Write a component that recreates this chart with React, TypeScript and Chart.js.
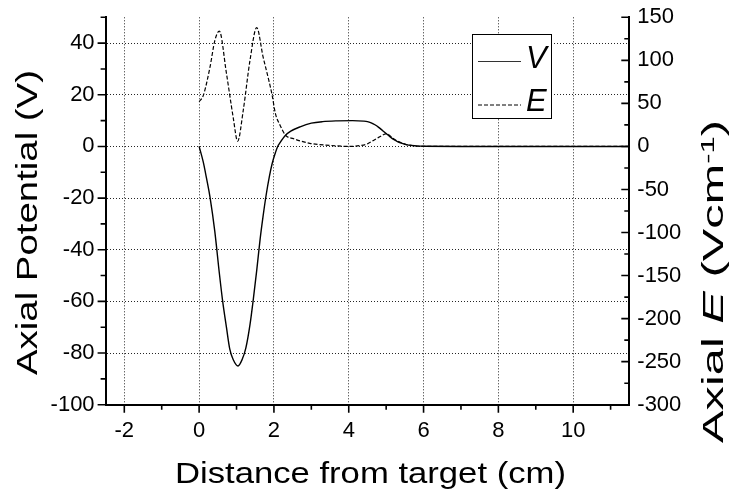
import React, { useEffect, useRef } from 'react';
import { Chart, registerables } from 'chart.js';

Chart.register(...registerables);

// ---------- data ----------
const V_X = [0, 0.11, 0.2, 0.29, 0.42, 0.54, 0.63, 0.73, 0.82, 0.91, 1.04, 1.15, 1.25, 1.36, 1.45, 1.54, 1.63, 1.71, 1.79, 1.88, 1.95, 2.04, 2.1, 2.16, 2.31, 2.45, 2.7, 3.0, 3.3, 3.7, 4.1, 4.4, 4.5, 4.6, 4.7, 4.8, 4.9, 5.0, 5.1, 5.2, 5.3, 5.45, 5.6, 5.8, 6.0, 7, 8, 9, 10, 11, 11.5];
const V_Y = [0, -6, -12.5, -19.5, -33, -49, -60, -70, -78.5, -82.5, -85, -82.5, -78, -69, -59, -48, -36, -27, -19, -11.5, -6.8, -2.4, 0, 1.4, 4.3, 5.9, 7.6, 9.0, 9.6, 9.9, 10, 9.8, 9.6, 9.1, 8.4, 7.4, 6.2, 5.0, 3.8, 2.7, 1.9, 1.1, 0.5, 0.2, 0.05, 0, 0, 0, 0, 0, 0];

const E_X = [0, 0.11, 0.29, 0.42, 0.54, 0.73, 0.91, 1.03, 1.18, 1.36, 1.54, 1.71, 1.84, 1.95, 2.04, 2.16, 2.31, 2.52, 2.96, 3.5, 4.0, 4.3, 4.5, 4.66, 4.8, 4.92, 5.02, 5.1, 5.2, 5.3, 5.45, 5.6, 5.8, 6.0, 7, 8, 9, 10, 11, 11.5];
const E_Y = [52, 59, 92, 123, 134, 85, 34, 6, 42, 100, 138, 104, 81, 60, 38, 25, 13, 9, 3.6, 1.2, 0, 1, 3, 7, 10.5, 13.5, 15, 12.5, 9, 6.3, 3.5, 1.6, 0.5, 0.1, 0, 0, 0, 0, 0, 0];

const SERIES_LABELS = ['V', 'E'];

const X_MIN = -2.5;
const X_MAX = 11.5;
const X_TICKS = [-2, 0, 2, 4, 6, 8, 10];
const X_MINOR = [-1, 1, 3, 5, 7, 9, 11];

const LEFT_MIN = -100;
const LEFT_MAX = 50;
const LEFT_TICKS = [-100, -80, -60, -40, -20, 0, 20, 40];
const LEFT_MINOR = [-90, -70, -50, -30, -10, 10, 30, 50];

const RIGHT_MIN = -300;
const RIGHT_MAX = 150;
const RIGHT_TICKS = [-300, -250, -200, -150, -100, -50, 0, 50, 100, 150];
const RIGHT_MINOR = [-275, -225, -175, -125, -75, -25, 25, 75, 125];

const X_TITLE = 'Distance from target (cm)';
const LEFT_TITLE = 'Axial Potential (V)';
const RIGHT_TITLE_PARTS = [
  { text: 'Axial ' },
  { text: 'E', italic: true },
  { text: ' (Vcm' },
  { text: '-1', sup: true },
  { text: ')' },
];

// ---------- style ----------
const FONT = '"Liberation Sans", Arial, Helvetica, sans-serif';

type Seg = { text: string; italic?: boolean; sup?: boolean };

function drawFitText(
  ctx: CanvasRenderingContext2D,
  segs: Seg[],
  size: number,
  cx: number,
  baseline: number,
  rot: number,
  targetLen: number
) {
  ctx.save();
  const fontFor = (s: Seg) => `${s.italic ? 'italic ' : ''}${s.sup ? Math.round(size * 0.62) : size}px ${FONT}`;
  let total = 0;
  const widths = segs.map((s) => {
    ctx.font = fontFor(s);
    const w = ctx.measureText(s.text).width;
    total += w;
    return w;
  });
  ctx.translate(cx, baseline);
  ctx.rotate(rot);
  ctx.scale(targetLen / total, 1);
  ctx.fillStyle = '#000';
  ctx.textBaseline = 'alphabetic';
  ctx.textAlign = 'left';
  let x = -total / 2;
  segs.forEach((s, i) => {
    ctx.font = fontFor(s);
    ctx.fillText(s.text, x, s.sup ? -size * 0.3 : 0);
    x += widths[i];
  });
  ctx.restore();
}

const decorPlugin = {
  id: 'decor',
  afterDatasetsDraw(chart: any) {
    const ctx: CanvasRenderingContext2D = chart.ctx;
    const ca = chart.chartArea;
    const sx = chart.scales.x;
    const sy = chart.scales.y;
    const sy1 = chart.scales.y1;

    // legend
    const lx = 472.5, ly = 34.5, lw = 79, lh = 84;
    ctx.save();
    ctx.fillStyle = '#fff';
    ctx.fillRect(lx, ly, lw, lh);
    ctx.strokeStyle = '#000';
    ctx.lineWidth = 1;
    ctx.strokeRect(lx, ly, lw, lh);
    const dsets = chart.data.datasets;
    const rows = [61.5, 105];
    dsets.forEach((ds: any, i: number) => {
      ctx.beginPath();
      ctx.setLineDash(ds.borderDash || []);
      ctx.lineWidth = 1;
      ctx.strokeStyle = i === 0 ? '#333' : '#000';
      ctx.moveTo(478, rows[i]);
      ctx.lineTo(521, rows[i]);
      ctx.stroke();
      ctx.setLineDash([]);
      ctx.fillStyle = '#000';
      ctx.font = `italic 31px ${FONT}`;
      ctx.textBaseline = 'alphabetic';
      ctx.textAlign = 'left';
      ctx.fillText(ds.label, 526, rows[i] + (i === 0 ? 6.5 : 6));
    });
    ctx.restore();

    // tick marks
    ctx.save();
    ctx.strokeStyle = '#000';
    ctx.lineWidth = 1.6;
    ctx.beginPath();
    X_TICKS.forEach((v) => {
      const p = sx.getPixelForValue(v);
      ctx.moveTo(p, ca.bottom);
      ctx.lineTo(p, ca.bottom + 8);
    });
    X_MINOR.forEach((v) => {
      const p = sx.getPixelForValue(v);
      ctx.moveTo(p, ca.bottom);
      ctx.lineTo(p, ca.bottom + 5);
    });
    LEFT_TICKS.forEach((v) => {
      const p = sy.getPixelForValue(v);
      ctx.moveTo(ca.left - 8, p);
      ctx.lineTo(ca.left, p);
    });
    LEFT_MINOR.forEach((v) => {
      const p = sy.getPixelForValue(v);
      ctx.moveTo(ca.left - 5, p);
      ctx.lineTo(ca.left, p);
    });
    RIGHT_TICKS.forEach((v) => {
      const p = sy1.getPixelForValue(v);
      ctx.moveTo(ca.right - 8, p);
      ctx.lineTo(ca.right, p);
    });
    RIGHT_MINOR.forEach((v) => {
      const p = sy1.getPixelForValue(v);
      ctx.moveTo(ca.right - 5, p);
      ctx.lineTo(ca.right, p);
    });
    ctx.stroke();
    ctx.restore();

    // axis titles
    drawFitText(ctx, [{ text: X_TITLE }], 29, (ca.left + ca.right) / 2 + 3, 482.5, 0, 391);
    drawFitText(ctx, [{ text: LEFT_TITLE }], 30, 36.7, 222.5, -Math.PI / 2, 305);
    drawFitText(ctx, RIGHT_TITLE_PARTS, 30, 723.3, 281.5, -Math.PI / 2, 323);
  },
};

const gridStyle = {
  color: 'rgba(0,0,0,0.85)',
  lineWidth: 1,
  drawTicks: false,
};

const noPadV = (w: number) => (s: any) => {
  s.width = w;
  s.paddingTop = 0;
  s.paddingBottom = 0;
};

export default function App() {
  const ref = useRef<HTMLCanvasElement | null>(null);

  useEffect(() => {
    if (!ref.current) return;
    const chart = new Chart(ref.current, {
      type: 'line',
      data: {
        datasets: [
          {
            label: SERIES_LABELS[0],
            data: V_X.map((x, i) => ({ x, y: V_Y[i] })),
            yAxisID: 'y',
            borderColor: '#000',
            borderWidth: 1.4,
            pointRadius: 0,
            fill: false,
            cubicInterpolationMode: 'monotone',
          },
          {
            label: SERIES_LABELS[1],
            data: E_X.map((x, i) => ({ x, y: E_Y[i] })),
            yAxisID: 'y1',
            borderColor: '#000',
            borderWidth: 1.2,
            borderDash: [4, 2],
            pointRadius: 0,
            fill: false,
            cubicInterpolationMode: 'monotone',
          },
        ],
      },
      options: {
        animation: false,
        responsive: false,
        maintainAspectRatio: false,
        events: [],
        layout: { padding: { top: 17.3, left: 0, right: 0, bottom: 0 } },
        plugins: { legend: { display: false }, tooltip: { enabled: false }, title: { display: false } },
        scales: {
          x: {
            type: 'linear',
            position: 'bottom',
            min: X_MIN,
            max: X_MAX,
            afterBuildTicks: (s: any) => {
              s.ticks = X_TICKS.map((v) => ({ value: v }));
            },
            afterFit: (s: any) => {
              s.height = 89.3;
              s.paddingLeft = 0;
              s.paddingRight = 0;
            },
            ticks: {
              autoSkip: false,
              maxRotation: 0,
              padding: 13,
              color: '#000',
              font: { family: FONT, size: 22 },
              callback: (v: any) => String(v),
            },
            grid: gridStyle,
            border: { display: true, color: '#000', width: 2, dash: [1, 2] },
          },
          y: {
            type: 'linear',
            position: 'left',
            min: LEFT_MIN,
            max: LEFT_MAX,
            afterBuildTicks: (s: any) => {
              s.ticks = LEFT_TICKS.map((v) => ({ value: v }));
            },
            afterFit: noPadV(105.6),
            ticks: {
              padding: 11,
              color: '#000',
              font: { family: FONT, size: 22 },
              callback: (v: any) => String(v),
            },
            grid: gridStyle,
            border: { display: true, color: '#000', width: 2, dash: [1, 2] },
          },
          y1: {
            type: 'linear',
            position: 'right',
            min: RIGHT_MIN,
            max: RIGHT_MAX,
            afterBuildTicks: (s: any) => {
              s.ticks = RIGHT_TICKS.map((v) => ({ value: v }));
            },
            afterFit: noPadV(105.7),
            ticks: {
              padding: 8,
              color: '#000',
              font: { family: FONT, size: 22 },
              callback: (v: any) => String(v),
            },
            grid: { drawOnChartArea: false, drawTicks: false },
            border: { display: true, color: '#000', width: 2 },
          },
        },
      },
      plugins: [decorPlugin],
    } as any);
    return () => chart.destroy();
  }, []);

  return (
    <div style={{ position: 'fixed', left: 0, top: 0, width: 735, height: 494, background: '#fff' }}>
      <canvas ref={ref} width={735} height={494} style={{ display: 'block', width: '735px', height: '494px' }} />
    </div>
  );
}
